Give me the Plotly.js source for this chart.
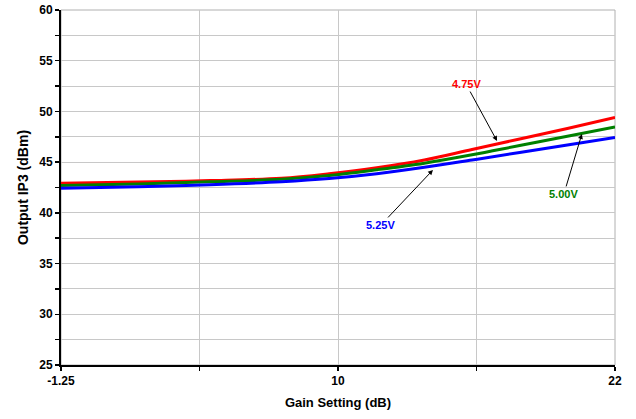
<!DOCTYPE html>
<html>
<head>
<meta charset="utf-8">
<script src="https://cdn.plot.ly/plotly-3.0.1.min.js"></script>
<style>html,body{margin:0;padding:0;background:#fff;}#chart{width:636px;height:419px;}</style>
</head>
<body>
<div id="chart"></div>
<script>
// Gain setting (dB)
var gain = [-1.25, 2, 5, 8, 10, 12, 14, 16, 18, 20, 22];
// Output IP3 (dBm) per supply voltage
var ip3_475 = [42.92, 43.03, 43.18, 43.42, 43.86, 44.44, 45.21, 46.25, 47.28, 48.32, 49.40];
var ip3_500 = [42.70, 42.85, 43.06, 43.31, 43.68, 44.25, 44.90, 45.72, 46.64, 47.55, 48.46];
var ip3_525 = [42.42, 42.58, 42.78, 43.07, 43.38, 43.86, 44.49, 45.21, 45.95, 46.69, 47.43];
var seriesNames = ["4.75V", "5.00V", "5.25V"];
var seriesColors = ["#ff0000", "#008000", "#0000ff"];

var xTickVals = [-1.25, 4.5625, 10.375, 16.1875, 22];
var xTickText = ["-1.25", "", "10", "", "22"];
var yTickVals = [25, 27.5, 30, 32.5, 35, 37.5, 40, 42.5, 45, 47.5, 50, 52.5, 55, 57.5, 60];
var yTickText = ["25", "", "30", "", "35", "", "40", "", "45", "", "50", "", "55", "", "60"];

// annotation arrow targets (data coords)
var annX = [17.05, 20.61, 14.36];
var annY = [47.08, 47.78, 44.23];

var font = "Liberation Sans, Arial, sans-serif";
var ys = [ip3_475, ip3_500, ip3_525];
var traces = ys.map(function (y, i) {
  return {
    x: gain, y: y, type: "scatter", mode: "lines", name: seriesNames[i],
    line: {color: seriesColors[i], width: 3, shape: "spline", smoothing: 1}
  };
});

var offs = [[-31, -57], [-18, 60], [-52, 55]];
var annotations = seriesNames.map(function (n, i) {
  return {
    x: annX[i], y: annY[i], xref: "x", yref: "y",
    text: "<b>" + n + "</b>", showarrow: true,
    ax: offs[i][0], ay: offs[i][1],
    arrowhead: 2, arrowsize: 1, arrowwidth: 1, arrowcolor: "#000", standoff: 0,
    font: {family: font, size: 11, color: seriesColors[i]}
  };
});

var layout = {
  width: 636, height: 419,
  margin: {l: 61, r: 21, t: 10, b: 54},
  paper_bgcolor: "#fff", plot_bgcolor: "#fff",
  showlegend: false,
  xaxis: {
    range: [-1.25, 22], tickmode: "array", tickvals: xTickVals, ticktext: xTickText,
    showgrid: true, gridcolor: "#c8c8c8", gridwidth: 1,
    showline: true, linecolor: "#000", linewidth: 2,
    ticks: "outside", ticklen: 4, tickwidth: 1.5, tickcolor: "#000",
    tickfont: {family: font, size: 12, color: "#000", weight: "bold"},
    zeroline: false,
    title: {text: "<b>Gain Setting (dB)</b>", font: {family: font, size: 13, color: "#000"}, standoff: 10}
  },
  yaxis: {
    range: [25, 60], tickmode: "array", tickvals: yTickVals, ticktext: yTickText,
    showgrid: true, gridcolor: "#c8c8c8", gridwidth: 1,
    showline: true, linecolor: "#000", linewidth: 2,
    ticks: "outside", ticklen: 4, tickwidth: 1.5, tickcolor: "#000",
    tickfont: {family: font, size: 12, color: "#000", weight: "bold"},
    zeroline: false,
    title: {text: "<b>Output IP3 (dBm)</b>", font: {family: font, size: 14, color: "#000"}, standoff: 7}
  },
  shapes: [{type: "rect", xref: "paper", yref: "paper", x0: 0, x1: 1, y0: 0, y1: 1,
            line: {color: "#b0b0b0", width: 1}, layer: "below"}],
  annotations: annotations
};

Plotly.newPlot("chart", traces, layout, {displayModeBar: false, staticPlot: true});
</script>
</body>
</html>
